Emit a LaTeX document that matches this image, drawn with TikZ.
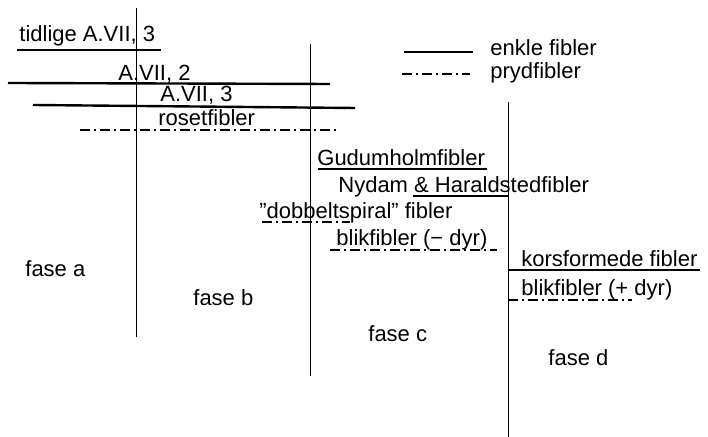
\documentclass[tikz,border=0pt]{standalone}
\usepackage{fontspec}
\setmainfont{Liberation Sans}

\begin{document}
\begin{tikzpicture}[
    x=0.5pt, y=-0.5pt,
    fibtext/.style={anchor=base west, inner sep=0pt, font=\fontsize{11}{13}\selectfont},
    enkel/.style={line width=1.2pt},
    pryd/.style={line width=1.2pt, dash pattern=on 5pt off 2pt on 1pt off 2pt},
    faseline/.style={line width=0.5pt}
  ]
    \useasboundingbox (0,0) rectangle (708,437);
    % phase borders
    \draw[faseline] (136,8) -- (136,337);
    \draw[faseline] (310,44) -- (310,376);
    \draw[faseline] (508,102) -- (508,437);
    % legend
    \draw[enkel] (404,52) -- (473,52);
    \node[fibtext] (enkle) at (490,56) {enkle fibler};
    \draw[pryd] (402,74) -- (470,74);
    \node[fibtext] (pryd) at (490,79) {prydfibler};
    % fase a / b
    \node[fibtext] (tidlige) at (19,42) {tidlige A.VII, 3};
    \draw[enkel] (17,50) -- (161,50);
    \node[fibtext] (avii2) at (118,81) {A.VII, 2};
    \draw[enkel] (8,83) -- (330,84);
    \node[fibtext] (avii3) at (160,102) {A.VII, 3};
    \draw[enkel] (33,105) -- (355,108);
    \node[fibtext] (roset) at (158,126) {rosetfibler};
    \draw[pryd] (80,130) -- (338,130);
    % fase c
    \node[fibtext] (gudum) at (317,166) {Gudumholmfibler};
    \draw[enkel] (318,169) -- (487,169);
    \node[fibtext] (nydam) at (338,193) {Nydam \& Haraldstedfibler};
    \draw[enkel] (413,196) -- (508,196);
    \node[fibtext] (spiral) at (259,219) {”dobbeltspiral” fibler};
    \draw[pryd] (262,222) -- (350,222);
    \node[fibtext] (blikminus) at (336,246) {blikfibler (− dyr)};
    \draw[pryd] (330,250) -- (497,250);
    % fase d
    \node[fibtext] (kors) at (521,267) {korsformede fibler};
    \draw[enkel] (508,270) -- (700,270);
    \node[fibtext] (blikplus) at (521,296) {blikfibler (+ dyr)};
    \draw[pryd] (508,300) -- (632,300);
    % phases
    \node[fibtext] (fasea) at (25,277) {fase a};
    \node[fibtext] (faseb) at (193,306) {fase b};
    \node[fibtext] (fasec) at (368,342) {fase c};
    \node[fibtext] (fased) at (548,366) {fase d};
  \end{tikzpicture}
\end{document}
